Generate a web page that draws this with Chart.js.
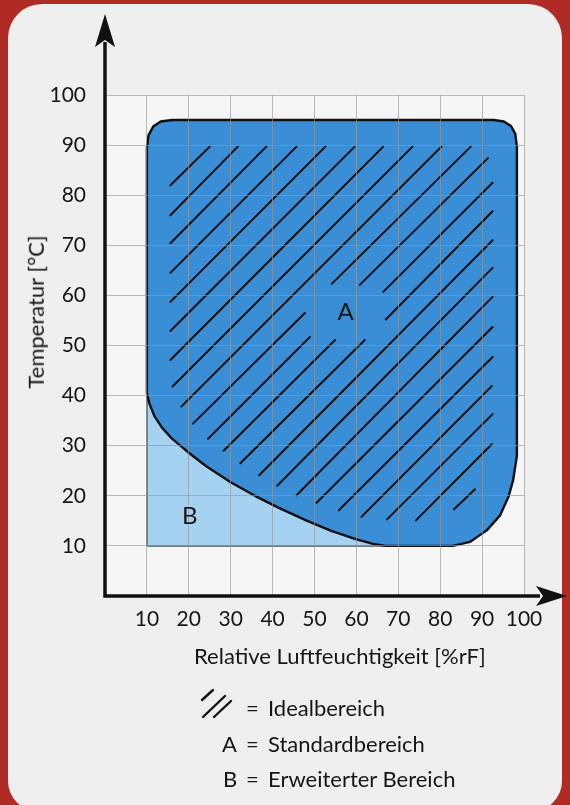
<!DOCTYPE html>
<html>
<head>
<meta charset="utf-8">
<script src="https://cdn.jsdelivr.net/npm/chart.js@4.4.0/dist/chart.umd.min.js"></script>
<style>
  html, body { margin: 0; padding: 0; }
  body { width: 570px; height: 805px; background: #b02b23; position: relative; overflow: hidden;
         font-family: Lato, sans-serif; color: #151515; }
  #panel { position: absolute; left: 8px; top: 4px; width: 554px; height: 807px; background: #efefef;
           border-radius: 34px 34px 30px 30px; }
  #chart { position: absolute; left: 0; top: 0; }
  .txt { position: absolute; white-space: nowrap; font-size: 22px; line-height: 1.2; }
  #ytitle { left: 36px; top: 312px; transform: translate(-50%, -50%) rotate(-90deg); }
  #hatchKey { position: absolute; left: 198px; top: 686px; }
</style>
</head>
<body>
<div id="panel"></div>
<canvas id="chart" width="570" height="805"></canvas>

<div class="txt" id="ytitle">Temperatur [°C]</div>
<div class="txt" style="left:194px; top:643px;">Relative Luftfeuchtigkeit [%rF]</div>

<svg id="hatchKey" width="38" height="36">
  <line x1="4" y1="14" x2="15" y2="4" stroke="#111" stroke-width="2.4" stroke-linecap="round"/>
  <line x1="5" y1="31" x2="27" y2="10" stroke="#111" stroke-width="2.4" stroke-linecap="round"/>
  <line x1="16" y1="31" x2="33" y2="15" stroke="#111" stroke-width="2.4" stroke-linecap="round"/>
</svg>
<div class="txt" style="left:246px; top:695px;">=</div>
<div class="txt" style="left:268px; top:695px;">Idealbereich</div>
<div class="txt" style="left:222px; top:731px;">A</div>
<div class="txt" style="left:246px; top:731px;">=</div>
<div class="txt" style="left:268px; top:731px;">Standardbereich</div>
<div class="txt" style="left:223px; top:766px;">B</div>
<div class="txt" style="left:246px; top:766px;">=</div>
<div class="txt" style="left:268px; top:766px;">Erweiterter Bereich</div>

<script>
// tick labels
const xTickValues = [10, 20, 30, 40, 50, 60, 70, 80, 90, 100];
const yTickValues = [10, 20, 30, 40, 50, 60, 70, 80, 90, 100];

// lower-left edge of area A (also the upper edge of area B), [rF, °C]
const lowerCurve = [
  [10, 40.5], [10.6, 38.4], [11.8, 35.9], [13.6, 33.6], [16, 31.4], [20, 28.6], [24, 26],
  [30, 22.7], [36, 19.9], [42, 17.4], [48, 15.1], [54, 13], [60, 11.3], [64, 10.4], [67, 10]
];

// rest of the outline of area A, going round from the top-left corner
const upperOutline = [
  [10, 89.5], [10.4, 92.0], [11.5, 93.7], [13.3, 94.7], [16, 95], [92.8, 95], [95.2, 94.7],
  [96.9, 93.8], [97.9, 92.3], [98.3, 89.8], [98.3, 28], [97.4, 23.1], [96.3, 19.8], [94.3, 16.1],
  [91.1, 13.1], [87.1, 10.8], [83, 10]
];

// hatch strokes of the ideal range: [x1, y1, x2, y2]
const hatchSegments = [
  [15.6, 82.0, 25.0, 89.7],
  [15.6, 76.0, 31.7, 89.7],
  [15.6, 70.4, 38.5, 89.7],
  [15.6, 64.5, 45.7, 89.7],
  [15.6, 58.7, 52.6, 89.7],
  [15.6, 52.9, 59.6, 89.7],
  [15.6, 47.1, 66.4, 89.7],
  [16.1, 41.8, 73.4, 89.7],
  [18.2, 37.8, 80.3, 89.7],
  [21.0, 34.4, 47.7, 56.5],
  [54.1, 62.3, 87.3, 89.7],
  [24.6, 31.4, 48.9, 51.7],
  [60.8, 62.1, 91.4, 87.4],
  [28.3, 29.0, 54.9, 51.1],
  [66.4, 60.7, 92.5, 82.5],
  [32.3, 26.5, 62.0, 51.1],
  [67.0, 55.2, 92.5, 76.8],
  [36.8, 24.1, 92.5, 71.0],
  [41.1, 22.0, 92.5, 65.5],
  [45.7, 20.1, 92.5, 59.7],
  [50.5, 18.6, 92.5, 53.7],
  [55.8, 17.1, 92.5, 47.7],
  [61.2, 15.8, 92.3, 41.9],
  [67.3, 15.3, 92.5, 36.3],
  [74.2, 15.1, 92.3, 30.3],
  [83.3, 17.3, 88.3, 21.3]
];

const regionLabels = [
  { text: 'A', x: 57.4, y: 56.6 },
  { text: 'B', x: 20.2, y: 15.9 }
];

const toPoints = list => list.map(p => ({ x: p[0], y: p[1] }));

const outlineA = lowerCurve.slice().reverse().concat(upperOutline, [lowerCurve[lowerCurve.length - 1]]);
const outlineB = [[10, 10]].concat(lowerCurve, [[10, 10]]);

const datasets = hatchSegments.map(s => ({
  data: [{ x: s[0], y: s[1] }, { x: s[2], y: s[3] }],
  showLine: true,
  borderColor: '#0d0d0d',
  borderWidth: 2,
  borderCapStyle: 'round',
  pointRadius: 0,
  fill: false
}));

// area A
datasets.push({
  data: toPoints(outlineA),
  showLine: true,
  fill: 'shape',
  backgroundColor: '#3a8ed6',
  borderColor: '#101010',
  borderWidth: 2.4,
  borderJoinStyle: 'round',
  tension: 0.0001,
  pointRadius: 0
});

// area B
datasets.push({
  data: toPoints(outlineB),
  showLine: true,
  fill: 'shape',
  backgroundColor: '#a6d2f2',
  borderColor: '#555555',
  borderWidth: 1.5,
  tension: 0.0001,
  pointRadius: 0
});

const gridColor = 'rgba(150, 150, 150, 0.65)';
const tickFont = { family: 'Lato', size: 21 };

const decor = {
  id: 'decor',
  beforeDraw(chart) {
    const { ctx, chartArea: a } = chart;
    ctx.save();
    ctx.fillStyle = '#f6f6f6';
    ctx.fillRect(a.left, a.top, a.right - a.left, a.bottom - a.top);
    ctx.restore();
  },
  afterDraw(chart) {
    const { ctx, scales } = chart;
    const x0 = scales.x.getPixelForValue(0);
    const y0 = scales.y.getPixelForValue(0);
    ctx.save();
    ctx.strokeStyle = '#111';
    ctx.fillStyle = '#111';
    ctx.lineWidth = 3.5;
    ctx.beginPath();
    ctx.moveTo(x0, 42);
    ctx.lineTo(x0, y0);
    ctx.lineTo(540, y0);
    ctx.stroke();
    // arrow heads
    ctx.beginPath();
    ctx.moveTo(x0, 14);
    ctx.lineTo(x0 + 10, 47);
    ctx.lineTo(x0, 40);
    ctx.lineTo(x0 - 10, 47);
    ctx.closePath();
    ctx.fill();
    ctx.beginPath();
    ctx.moveTo(567, y0);
    ctx.lineTo(536, y0 - 10);
    ctx.lineTo(543, y0);
    ctx.lineTo(536, y0 + 10);
    ctx.closePath();
    ctx.fill();
    // region letters
    ctx.fillStyle = '#151515';
    ctx.font = '24px Lato';
    ctx.textAlign = 'center';
    ctx.textBaseline = 'middle';
    regionLabels.forEach(l => {
      ctx.fillText(l.text, scales.x.getPixelForValue(l.x), scales.y.getPixelForValue(l.y));
    });
    ctx.restore();
  }
};

new Chart(document.getElementById('chart'), {
  type: 'scatter',
  data: { datasets: datasets },
  options: {
    responsive: false,
    animation: false,
    events: [],
    layout: { padding: { top: 95, right: 46, left: 0, bottom: 0 } },
    plugins: { legend: { display: false }, tooltip: { enabled: false } },
    scales: {
      x: {
        type: 'linear', min: 0, max: 100,
        afterFit: s => { s.height = 209; },
        afterBuildTicks: s => { s.ticks = xTickValues.map(v => ({ value: v })); },
        grid: { color: gridColor, lineWidth: 1, drawTicks: false, z: 1 },
        border: { display: false },
        ticks: { padding: 11, font: tickFont, color: '#151515', maxRotation: 0, autoSkip: false }
      },
      y: {
        type: 'linear', min: 0, max: 100,
        afterFit: s => { s.width = 105; },
        afterBuildTicks: s => { s.ticks = yTickValues.map(v => ({ value: v })); },
        grid: { color: gridColor, lineWidth: 1, drawTicks: false, z: 1 },
        border: { display: false },
        ticks: { padding: 19, font: tickFont, color: '#151515', autoSkip: false }
      }
    }
  },
  plugins: [decor]
});
</script>
</body>
</html>
